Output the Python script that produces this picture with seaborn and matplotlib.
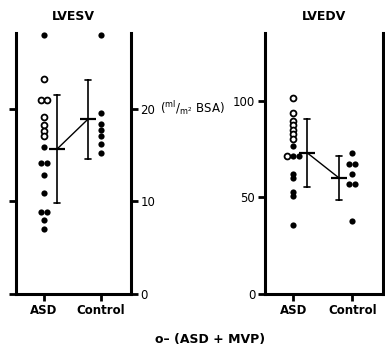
import numpy as np
import pandas as pd
import seaborn as sns
import matplotlib.pyplot as plt

sns.set_style('ticks')
plt.rcParams['font.family'] = ['DejaVu Sans']
plt.rcParams['text.color'] = 'black'
plt.rcParams['axes.edgecolor'] = 'black'
plt.rcParams['xtick.color'] = 'black'
plt.rcParams['ytick.color'] = 'black'
plt.rcParams['axes.labelcolor'] = 'black'

groups = ['ASD', 'Control']

# LVESV (ml/m2 BSA) - open = ASD + MVP, filled = ASD only
esv_asd_mvp = [23.2, 21.0, 21.0, 19.1, 18.2, 17.6, 17.1]
esv_asd = [28.0, 15.9, 14.1, 14.1, 12.9, 10.9, 8.9, 8.9, 8.0, 7.0]
esv_control = [28.0, 19.5, 18.4, 17.7, 17.1, 16.2, 15.2]

# LVEDV (ml/m2 BSA)
edv_asd_mvp = [101.5, 93.5, 89.5, 87.5, 85.0, 82.5, 80.0, 71.2]
edv_asd = [76.5, 71.2, 71.2, 62.0, 60.0, 52.5, 50.5, 35.5]
edv_control = [72.8, 67.1, 67.1, 62.0, 56.9, 56.9, 38.0]


def make_df(asd_mvp, asd, control):
    df = pd.DataFrame({
        'group': ['ASD'] * (len(asd_mvp) + len(asd)) + ['Control'] * len(control),
        'value': asd_mvp + asd + control,
        'mvp': [True] * len(asd_mvp) + [False] * (len(asd) + len(control)),
    })
    # spread equal values side by side
    df['x'] = df['group'].map({g: i for i, g in enumerate(groups)}).astype(float)
    for (g, v), sub in df.groupby(['group', 'value']):
        n = len(sub)
        df.loc[sub.index, 'x'] += (np.arange(n) - (n - 1) / 2) * 0.1
    # mean +- SD drawn beside the dots
    df['pos'] = df['group'].map({'ASD': 0.23, 'Control': 0.77})
    return df


def draw_panel(ax, df, title, ylim, yticks, label_side):
    sns.pointplot(data=df, x='pos', y='value', native_scale=True, errorbar='sd',
                  color='black', markers='_', markersize=12, markeredgewidth=1.6,
                  linewidth=1.0, capsize=0.2, err_kws={'linewidth': 1.2}, ax=ax)
    opn = df[df['mvp']]
    fil = df[~df['mvp']]
    sns.scatterplot(data=fil, x='x', y='value', color='black', s=20, linewidth=0,
                    ax=ax, clip_on=False, zorder=5)
    sns.scatterplot(data=opn, x='x', y='value', facecolor='white', edgecolor='black',
                    s=18, linewidth=1.3, ax=ax, clip_on=False, zorder=5)
    ax.set_xlim(-0.48, 1.52)
    ax.set_ylim(*ylim)
    ax.set_xticks([0, 1], groups)
    ax.set_yticks(yticks)
    ax.set_xlabel('')
    ax.set_ylabel('')
    ax.set_title(title, fontsize=9, fontweight='bold', pad=9)
    ax.spines['top'].set_visible(False)
    for s in ['left', 'right', 'bottom']:
        ax.spines[s].set_visible(True)
        ax.spines[s].set_linewidth(2.2)
    ax.tick_params(axis='both', width=2, length=5, labelsize=8.5, pad=2)
    ax.tick_params(axis='y', left=True, right=True,
                   labelleft=(label_side == 'left'), labelright=(label_side == 'right'))
    for lab in ax.get_xticklabels():
        lab.set_fontweight('bold')


fig = plt.figure(figsize=(3.85, 3.5), dpi=100)
ax1 = fig.add_axes([0.042, 0.16, 0.298, 0.746])
ax2 = fig.add_axes([0.688, 0.16, 0.307, 0.746])

draw_panel(ax1, make_df(esv_asd_mvp, esv_asd, esv_control), 'LVESV', (0, 28.2), [0, 10, 20], 'right')
draw_panel(ax2, make_df(edv_asd_mvp, edv_asd, edv_control), 'LVEDV', (0, 135), [0, 50, 100], 'left')

fig.text(160 / 385, (350 - 108) / 350, r'(${}^{\mathrm{ml}}/_{\mathrm{m}^2}$ BSA)',
         fontsize=8.5, ha='left', va='center')
fig.text(210 / 385, (350 - 340) / 350, 'o– (ASD + MVP)', fontsize=9,
         fontweight='bold', ha='center', va='center')

fig.savefig('out.png', dpi=100, facecolor='white')
